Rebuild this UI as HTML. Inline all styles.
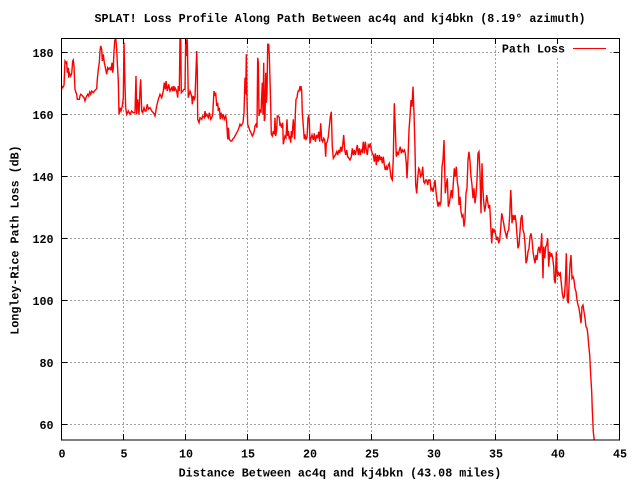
<!DOCTYPE html>
<html><head><meta charset="utf-8"><style>
html,body{margin:0;padding:0;background:#fff;}
svg{display:block;}
text{font-family:"Liberation Mono","DejaVu Sans Mono",monospace;font-weight:bold;font-size:11.7px;fill:#000;}
</style></head><body>
<svg width="640" height="480" viewBox="0 0 640 480" xmlns="http://www.w3.org/2000/svg">
<rect x="0" y="0" width="640" height="480" fill="#fff"/>
<g stroke="#a0a0a0" stroke-width="1" stroke-dasharray="2,2" fill="none" shape-rendering="crispEdges">
<line x1="123.5" y1="38" x2="123.5" y2="440"/>
<line x1="185.5" y1="38" x2="185.5" y2="440"/>
<line x1="247.5" y1="38" x2="247.5" y2="440"/>
<line x1="309.5" y1="38" x2="309.5" y2="440"/>
<line x1="371.5" y1="38" x2="371.5" y2="440"/>
<line x1="433.5" y1="38" x2="433.5" y2="440"/>
<line x1="495.5" y1="38" x2="495.5" y2="440"/>
<line x1="557.5" y1="38" x2="557.5" y2="440"/>
<line x1="62" y1="52.5" x2="619" y2="52.5"/>
<line x1="62" y1="114.5" x2="619" y2="114.5"/>
<line x1="62" y1="176.5" x2="619" y2="176.5"/>
<line x1="62" y1="238.5" x2="619" y2="238.5"/>
<line x1="62" y1="300.5" x2="619" y2="300.5"/>
<line x1="62" y1="362.5" x2="619" y2="362.5"/>
<line x1="62" y1="424.5" x2="619" y2="424.5"/>
</g>
<rect x="499" y="41" width="110" height="16" fill="#fff"/>
<defs><clipPath id="pc"><rect x="61.5" y="38" width="558" height="402"/></clipPath></defs>
<polyline clip-path="url(#pc)" fill="none" stroke="#ff0000" stroke-width="1.4" stroke-linejoin="miter" points="
61.7,86 62.7,87.7 64,85.3 65,61 66,62.7 66.7,62 67.3,72.7 68.3,67.7 68.7,77.7 69.3,72.7 70.7,76 71.7,73.3 72.7,61 73.3,60 74,66 74.3,74.3 75,89.3 76,92.7 76.7,94.3 77.3,99.3 79.3,99.3 80,96 80.7,94.3 82,95.3 83.3,96.7 84,97.7 85,101 86,97.7 86.7,96 87.7,94.3 88.7,96 89.7,92 90.7,94.3 91.7,91 93.3,92.7 95,90.3 96.7,88.7 97.3,79.3 98.3,69.3 99.3,62.7 100,51 100.7,46 101.7,49.3 102.3,61 103.3,54.3 104.3,62.7 105.7,69.3 106.7,74.3 107.7,67.7 108.7,69.3 110,67.7 111,70.3 112,62.7 112.7,72.7 113.3,67.7 114,51 114.7,41 115.7,37.7 116.7,49.3 117.3,62.7 118.3,81 119,114.3 120,107.7 121,111 122.3,106 123.3,97.7 124,42.7 125,86 125.7,107.7 126.7,114.3 128.3,111 130,114.3 131.7,111 133.3,112.7 135,112.7 136,76 136.7,114.3 137.7,99.3 139,114.3 140,89.3 140.7,79.3 141.7,111 142.7,112.7 144,107.7 145,111 146,111 147.3,104.3 148.3,109.3 150,107.7 151.7,111 153.3,112.7 155,116 156.7,106 158.3,99.3 160,94.3 161.7,97.7 163.3,91 164.3,82.7 165.3,89.3 166,81 167.3,91 168.7,84.3 170,91 171.7,87.7 172.7,91 173.3,86 174.3,91 175,87.7 176.7,91 177.7,97.7 178.3,86 179.3,91 180,39.3 180.7,39.3 181.3,92.7 182.7,91 184,89.3 185,89.3 185.7,39.3 186.7,56 187.3,39.3 188.3,97.7 190,91 191.7,96 192.3,104.3 193.3,96 194.3,99.3 195,97.7 196,71 196.7,51 197.3,71 197.7,119.3 199,122.7 200,117.7 201.7,119.3 202.7,116 204.3,117.7 205,111 205.7,116 206.7,114.3 208.3,117.7 209.3,112.7 210.7,119.3 211.7,117.7 212.7,114.3 214,91 215,96 215.7,92.7 216.7,106 217.7,102.7 218.3,111 219.3,107.7 220.3,119.3 221,112.7 222.3,117.7 223.3,114.3 224.3,119.3 225.7,116 226.7,122.7 227.7,139.3 228.3,127.7 229.3,139.3 230.7,141 231.7,141 232.7,139.3 234,137.7 235,136 236.7,132.7 237.7,131 239,127.7 240,124.3 241,126 242,124.3 243,122.7 244,112.7 245,77.7 245.7,94.3 246.3,54.3 247,99.3 247.7,124.3 248.3,126 250,131 251,132.7 252.3,136 253.3,134.3 254.3,131 255,126 256,124.3 257,127.7 257.7,57.7 258.3,62.7 259,116 260,109.3 261,112.7 262.3,82.7 263,114.3 263.7,62.7 264.3,121 265,117.7 265.7,72.7 266.3,102.7 267,92.7 267.7,44.3 268.7,44.3 269.3,56 270,79.3 270.7,106 271.3,134.3 272.3,136 273.3,131 274.3,134.3 275,117.7 275.7,136 276.7,129.3 277.3,116 278.3,116 279.3,117.7 280,126 280.7,124.3 281.7,127.7 282.7,122.7 283.3,144.3 284.3,139.3 285,136 286,137.7 287,119.3 287.7,136 288.3,131 289.3,139.3 290,136 290.7,142.7 291.3,131 292,137.7 292.7,127.7 293.3,119.3 294,129.3 294.7,139.3 295.3,114.3 296,99.3 297,97.7 297.7,92.7 298.3,91 299,91 299.7,87.7 300.3,89.3 301,86 301.7,91 302.3,112.7 303.3,126 304.3,139.3 305,134.3 306,139.3 307,137.7 308,117.7 308.7,116 309.3,121
310,143.3 311,138.3 312,135 313.3,140 314.3,133.3 315.3,141.7 316.7,135 317.7,138.3 318.7,131.7 319.7,141.7 320.7,123.3 321.7,140 322.7,141.7 323.7,138.3 324.7,140 325.7,156.7 326.3,143.3 327.3,141.7 328.3,136.7 329.3,126.7 330.3,116.7 331.3,111.7 332.3,146.7 333.3,158.3 334.3,156.7 335.3,155 336.7,151.7 337.7,155 338.7,150 339.7,153.3 340.7,146.7 341.7,151.7 342.7,145 343.7,135 344.7,150 345.7,155 346.7,150 347.7,156.7 349,158.3 350,160 351.3,156.7 352.3,148.3 353.3,155 354.3,150 355.3,155 356.3,150 357.3,145 358.3,155 359.3,148.3 360.3,155 361.3,150 362.3,151.7 363.3,141.7 364.3,153.3 365.3,141.7 366.3,150 367.3,155 368.3,145 369.3,146.7 370.3,143.3 371.3,150 372.3,153.3 373.3,155 374.3,161.7 375.3,153.3 376.3,165 377.3,155 378.3,161.7 379.3,155 380.3,160 381.3,156.7 382.3,163.3 383.3,156.7 384.3,165 385.3,170 386.3,166.7 387.3,170 388.3,165 389.3,163.3 390.3,171.7 391.3,178.3 392.3,180 393.3,158.3 394.3,103.3 395.3,128.3 396.3,156.7 397.3,151.7 398.3,155 399.3,150 400.3,146.7 401.3,153.3 402.3,150 403.3,151.7 404.3,150 405.3,153.3 406.3,163.3 407,178.3 408,158.3 409,130 410,116.7 411,100 412,106.7 413,86.7 414,113.3 415,148.3 415.7,185 416.7,193.3 417.7,178.3 418.7,168.3 419.7,170 420.7,176.7 421.7,175 422.7,166.7 423.7,181.7 424.7,183.3 425.7,180 426.7,180 427.7,185 428.7,180
430,180 431,190 432,188.3 433,191.7 434,186.7 435,180 436,191.7 437,200 438,206.7 439,201.7 440,205 441,201.7 442,166.7 443,160 444,140 444.7,170 445.3,193.3 446.3,185 447.3,178.3 448.3,206.7 449.3,203.3 450.3,196.7 451.3,190 452.3,198.3 453.3,183.3 454.3,168.3 455.3,176.7 456.3,166.7 457.3,181.7 458.3,188.3 459,205 460,196.7 461,211.7 462,216.7 463,215 464,226.7 465,218.3 466,193.3 467,188.3 468,160 469,151.7 470,161.7 471,176.7 472,185 473,198.3 474,188.3 475,203.3 476,195 477,180 478,153.3 479,151.7 480,173.3 481,213.3 482,163.3 482.7,185 483.7,201.7 484.7,211.7 485.7,205 486.7,195 487.7,201.7 488.7,208.3 489.7,205 490.7,225 491.7,243.3 492.7,228.3 493.7,231.7 494.7,230 495.7,235 496.7,240 497.7,236.7 498.7,243.3 499.7,240 500.7,228.3 501.7,213.3 502.7,218.3 503.7,223.3 504.7,230 505.7,233.3 506.7,238.3 507.7,231.7 508.7,230 509.7,215 510.7,190 511.3,200 512,223.3 513,215 514,220 515,215 516,221.7 517,235 518,248.3 519,245
520,231.7 521,218.3 522,215 523,230 524,233.3 525,243.3 526,263.3 527,260 528,251.7 529,248.3 530,236.7 531,233.3 532,240 533,251.7 534,258.3 535,263.3 536,255 537,260 538,250 539,246.7 540,253.3 541,245 541.7,233.3 542.3,253.3 543,278.3 543.7,246.7 544.7,258.3 545.7,246.7 546.7,245 547.7,238.3 548.7,266.7 549.7,251.7 550.7,256.7 551.7,253.3 552.7,258.3 553.7,266.7 554.3,280 555.3,283.3 556.3,251.7 557.3,276.7 558.3,271.7 559.3,275 560.3,273.3 561.3,283.3 562.3,293.3 563.3,298.3 564.3,296.7 565.3,283.3 566.3,253.3 567.3,300 568.3,303.3 569,285 570,265 571,255 572,278.3 573,276.7 574,280 575,288.3 576,291.7 577,300 578,305 579,308.3 580,315 581,323.3 582,306.7 583,305 584,311.7 585,318.3 586,326.7 587,328.3 587.7,333.3 588.7,345 589.7,355 590.7,375 591.7,391.7 592.3,410 593.3,431.7 594.3,441"/>
<g stroke="#000" stroke-width="1" fill="none" shape-rendering="crispEdges">
<rect x="61.5" y="38.5" width="558" height="401.5"/>
<path d="M61.5,52.5h6M61.5,114.5h6M61.5,176.5h6M61.5,238.5h6M61.5,300.5h6M61.5,362.5h6M61.5,424.5h6
M619.5,52.5h-6M619.5,114.5h-6M619.5,176.5h-6M619.5,238.5h-6M619.5,300.5h-6M619.5,362.5h-6M619.5,424.5h-6
M123.5,440v-6M185.5,440v-6M247.5,440v-6M309.5,440v-6M371.5,440v-6M433.5,440v-6M495.5,440v-6M557.5,440v-6
M123.5,38v6M185.5,38v6M247.5,38v6M309.5,38v6M371.5,38v6M433.5,38v6M495.5,38v6M557.5,38v6"/>
</g>
<line x1="573" y1="48.5" x2="606" y2="48.5" stroke="#ff0000" stroke-width="1" shape-rendering="crispEdges"/>
<text x="565" y="52.5" text-anchor="end">Path Loss</text>
<text x="340" y="22" text-anchor="middle">SPLAT! Loss Profile Along Path Between ac4q and kj4bkn (8.19° azimuth)</text>
<g text-anchor="end">
<text x="53.5" y="57">180</text>
<text x="53.5" y="119">160</text>
<text x="53.5" y="181">140</text>
<text x="53.5" y="243">120</text>
<text x="53.5" y="305">100</text>
<text x="53.5" y="367">80</text>
<text x="53.5" y="429">60</text>
</g>
<g text-anchor="middle">
<text x="62" y="457.5">0</text>
<text x="124" y="457.5">5</text>
<text x="186" y="457.5">10</text>
<text x="248" y="457.5">15</text>
<text x="310" y="457.5">20</text>
<text x="372" y="457.5">25</text>
<text x="434" y="457.5">30</text>
<text x="496" y="457.5">35</text>
<text x="558" y="457.5">40</text>
<text x="620" y="457.5">45</text>
</g>
<text x="340" y="476.5" text-anchor="middle">Distance Between ac4q and kj4bkn (43.08 miles)</text>
<text x="0" y="0" text-anchor="middle" transform="translate(18.3,240) rotate(-90)">Longley-Rice Path Loss (dB)</text>
</svg>
</body></html>
